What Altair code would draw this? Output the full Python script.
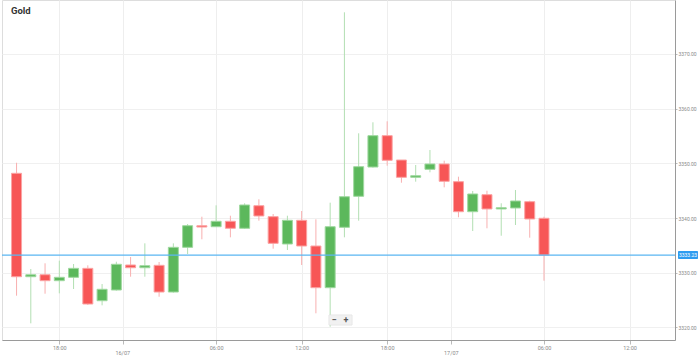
import altair as alt
import pandas as pd

# ---- data (hourly XAU/USD candles) ----
idx = list(range(38))
opens = [3348.17, 3329.27, 3329.63, 3328.54, 3329.16, 3330.80, 3324.88, 3326.84, 3331.41, 3330.91,
         3331.35, 3326.47, 3334.64, 3338.59, 3338.41, 3339.40, 3338.12, 3342.25, 3340.24, 3335.25,
         3339.58, 3334.88, 3327.26, 3338.30, 3343.97, 3349.32, 3355.05, 3350.60, 3347.44, 3348.90,
         3349.87, 3346.64, 3341.15, 3344.26, 3341.65, 3341.83, 3342.98, 3339.95]
highs = [3350.10, 3330.68, 3331.72, 3332.20, 3331.59, 3331.35, 3327.93, 3332.01, 3332.87, 3335.37,
         3331.96, 3335.37, 3338.90, 3340.24, 3342.32, 3340.42, 3342.69, 3343.42, 3340.73, 3340.42,
         3341.28, 3339.76, 3342.80, 3377.60, 3355.48, 3357.50, 3357.68, 3350.60, 3349.69, 3352.43,
         3350.48, 3347.55, 3344.94, 3344.99, 3342.69, 3345.12, 3343.16, 3340.24]
lows = [3325.80, 3320.75, 3326.16, 3326.23, 3327.02, 3324.10, 3324.04, 3326.71, 3329.27, 3329.27,
        3325.61, 3326.35, 3333.42, 3336.11, 3338.35, 3336.47, 3338.00, 3339.51, 3334.39, 3334.15,
        3331.41, 3322.58, 3320.13, 3336.47, 3339.51, 3349.20, 3349.56, 3346.45, 3346.64, 3348.35,
        3345.61, 3340.13, 3337.62, 3338.12, 3336.76, 3338.72, 3336.40, 3328.54]
closes = [3329.27, 3329.63, 3328.54, 3329.16, 3330.80, 3324.28, 3326.97, 3331.54, 3330.91, 3331.28,
          3326.47, 3334.64, 3338.59, 3338.35, 3339.40, 3338.12, 3342.38, 3340.37, 3335.37, 3339.58,
          3334.88, 3327.26, 3338.41, 3343.89, 3349.38, 3355.05, 3350.55, 3347.44, 3347.73, 3349.87,
          3346.71, 3341.15, 3344.39, 3341.65, 3341.88, 3343.11, 3339.82, 3333.23]

last_price = 3333.23
price_ticks = [3320, 3330, 3340, 3350, 3360, 3370]
time_tick_pos = [3, 14, 20, 26, 37, 43]
time_tick_labels = ["18:00", "06:00", "12:00", "18:00", "06:00", "12:00"]
date_tick_pos = [7.45, 30.5]
date_tick_labels = ["16/07", "17/07"]
title_text = "Gold"

df = pd.DataFrame({"i": idx, "open": opens, "high": highs, "low": lows, "close": closes})
df["dir"] = ["up" if c >= o else "down" for o, c in zip(opens, closes)]

FONT = "Roboto"
x_scale = alt.Scale(domain=[-0.67, 45.84], nice=False, zero=False)
y_scale = alt.Scale(domain=[3317.7, 3379.85], nice=False, zero=False)

all_ticks = sorted(time_tick_pos + date_tick_pos)
expr_parts = " : ".join(
    [f"datum.value == {p} ? '{l}'" for p, l in zip(time_tick_pos, time_tick_labels)]
) + " : ''"

x_axis = alt.Axis(values=all_ticks, labelExpr=expr_parts, grid=True, gridColor="#eeeeee",
                  domainColor="#9a9a9a", tickColor="#bbbbbb", tickSize=4, labelFontSize=5.5,
                  labelColor="#8a8a8a", labelPadding=1, title=None, labelFont=FONT,
                  labelFlush=False)
y_axis = alt.Axis(orient="right", values=price_ticks, format=".2f", grid=True, gridColor="#f0f0f0",
                  domainColor="#9a9a9a", tickColor="#bbbbbb", tickSize=2, labelFontSize=5,
                  labelColor="#8a8a8a", labelPadding=1, title=None, labelFont=FONT)

color_scale = alt.Scale(domain=["up", "down"], range=["#5cb85c", "#f75656"])
wick_scale = alt.Scale(domain=["up", "down"], range=["#b2dfb2", "#f8b0b0"])
edge_scale = alt.Scale(domain=["up", "down"], range=["#9fd89f", "#fba3a3"])

base = alt.Chart(df)

wicks = base.mark_rule(strokeWidth=1).encode(
    x=alt.X("i:Q", scale=x_scale, axis=x_axis),
    y=alt.Y("low:Q", scale=y_scale, axis=y_axis),
    y2="high:Q",
    color=alt.Color("dir:N", scale=wick_scale, legend=None),
)

bodies = base.mark_bar(size=10, strokeWidth=1).encode(
    x=alt.X("i:Q", scale=x_scale),
    y=alt.Y("open:Q", scale=y_scale),
    y2="close:Q",
    fill=alt.Fill("dir:N", scale=color_scale, legend=None),
    stroke=alt.Stroke("dir:N", scale=edge_scale, legend=None),
)

price_df = pd.DataFrame({"price": [last_price], "label": [f"{last_price:.2f}"]})
price_line = alt.Chart(price_df).mark_rule(color="#5ab6f2", strokeWidth=1.2).encode(
    y=alt.Y("price:Q", scale=y_scale)
)
price_box = alt.Chart(price_df).mark_rect(color="#2e9cf0", yOffset=-4, y2Offset=4, cornerRadius=1).encode(
    x=alt.value(676), x2=alt.value(696),
    y=alt.Y("price:Q", scale=y_scale), y2="price:Q",
)
price_text = alt.Chart(price_df).mark_text(color="white", fontSize=5, font=FONT, align="center",
                                           baseline="middle").encode(
    x=alt.value(686), y=alt.Y("price:Q", scale=y_scale), text="label:N"
)

date_df = pd.DataFrame({"pos": date_tick_pos, "label": date_tick_labels})
date_text = alt.Chart(date_df).mark_text(fontSize=5.5, color="#8a8a8a", font=FONT, baseline="middle").encode(
    x=alt.X("pos:Q", scale=x_scale), y=alt.value(353), text="label:N"
)

title_df = pd.DataFrame({"t": [title_text]})
title = alt.Chart(title_df).mark_text(fontSize=9.5, fontWeight="bold", color="#333333", font=FONT,
                                      align="left", baseline="middle").encode(
    x=alt.value(9), y=alt.value(11), text="t:N"
)

btn_df = pd.DataFrame({"b": ["−", "+"], "x": [332, 344]})
btn_bg = alt.Chart(btn_df).mark_rect(color="#f1f1f1", stroke="#e0e0e0", strokeWidth=0.5).encode(
    x=alt.value(327), x2=alt.value(350), y=alt.value(315), y2=alt.value(325)
)
btn_txt = alt.Chart(btn_df).mark_text(fontSize=9, fontWeight="bold", color="#555555", font=FONT,
                                      baseline="middle").encode(
    x=alt.X("x:Q", scale=None), y=alt.value(320), text="b:N"
)

chart = alt.layer(
    wicks, bodies, price_line, price_box, price_text, date_text, title, btn_bg, btn_txt
).properties(
    width=673, height=340,
    padding={"left": 2, "top": 0, "right": 24, "bottom": 18},
    autosize=alt.AutoSizeParams(type="none"),
).configure_view(stroke="#e6e6e6").configure(background="white")

chart.save("out.html", embed_options={"renderer": "svg", "actions": False})
